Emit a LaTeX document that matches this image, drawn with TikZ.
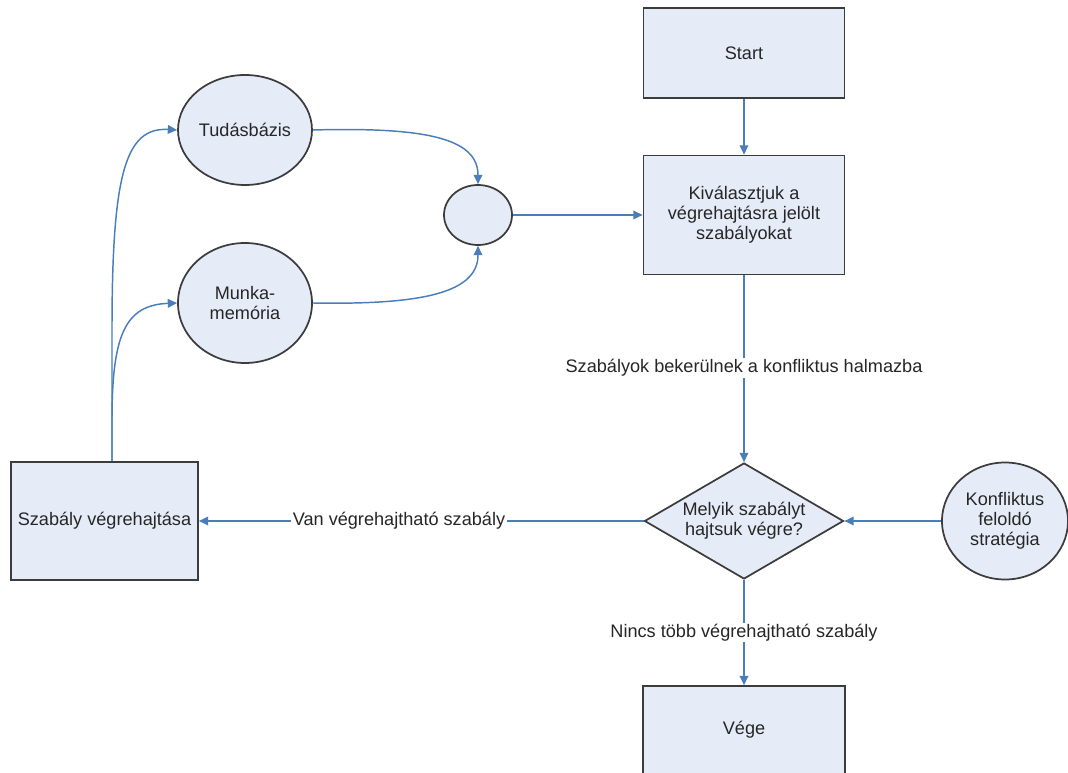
\documentclass[tikz,border=0pt]{standalone}
\usepackage{fontspec}
\setmainfont{Liberation Sans}
\usetikzlibrary{shapes.geometric,arrows.meta}

\definecolor{flowblue}{HTML}{4A7EBB}
\definecolor{boxfill}{HTML}{E6ECF7}
\definecolor{boxline}{HTML}{3C3C3C}
\definecolor{txt}{HTML}{262626}

\tikzset{
  txtfont/.style={font=\fontsize{13.6pt}{15pt}\selectfont, text=txt},
  base/.style={draw=boxline, line width=1.3pt, fill=boxfill, inner sep=0pt,
    txtfont, align=center},
  procbox/.style={base, rectangle},
  blob/.style={base, ellipse},
  decision/.style={base, diamond},
  flow/.style={draw=flowblue, line width=1.1pt,
    -{Triangle[length=7pt,width=6.5pt]}},
  flowlabel/.style={fill=white, inner sep=1pt, txtfont},
}

\begin{document}
\begin{tikzpicture}[x=0.75pt, y=-0.75pt]
\useasboundingbox (0,0) rectangle (1068,773);

% process boxes
\node[procbox, minimum width=150.75pt, minimum height=67.5pt] (start) at (744,53) {Start};
\node[procbox, minimum width=150.75pt, minimum height=89.25pt] (select) at (744,215)
  {Kiválasztjuk a\\végrehajtásra jelölt\\szabályokat};
\node[procbox, minimum width=140.25pt, minimum height=88.5pt] (exec) at (104.5,521)
  {Szabály végrehajtása};
\node[procbox, minimum width=151.5pt, minimum height=78pt,
  label={[txtfont, yshift=6pt]center:Vége}] (end) at (744,738) {};

% decision
\node[decision, minimum width=149.25pt, minimum height=87pt, aspect=1.7,
  label={[txtfont, align=center]center:Melyik szabályt\\hajtsuk végre?}]
  (choose) at (744,521) {};

% ellipses
\node[blob, minimum width=100.5pt, minimum height=82.5pt] (kb) at (245,130) {Tudásbázis};
\node[blob, minimum width=100.5pt, minimum height=90pt] (wm) at (245,303) {Munka-\\memória};
\node[blob, minimum width=51pt, minimum height=45pt] (join) at (478,215) {};
\node[blob, minimum width=94.5pt, minimum height=87.75pt] (strat) at (1005,521)
  {Konfliktus\\feloldó\\stratégia};

% connectors
\draw[flow] (start) -- (select);
\draw[flow] (join) -- (select);
\draw[flow] (kb.east) .. controls (425,127) and (478,138) .. (join.north);
\draw[flow] (wm.east) .. controls (425,305) and (478,292) .. (join.south);
\draw[flow] (select) -- node[flowlabel, pos=0.495] {Szabályok bekerülnek a konfliktus halmazba} (choose);
\draw[flow] (choose) -- node[flowlabel, pos=0.55] {Van végrehajtható szabály} (exec);
\draw[flow] (strat) -- (choose);
\draw[flow] (choose) -- node[flowlabel, pos=0.5] {Nincs több végrehajtható szabály} (end);
\draw[flow] (exec.north -| 112,0) -- (112,330) .. controls (112,175) and (125,127) .. (kb.west);
\draw[flow] (exec.north -| 112,0) -- (112,420) .. controls (112,335) and (125,305) .. (wm.west);
\end{tikzpicture}
\end{document}
